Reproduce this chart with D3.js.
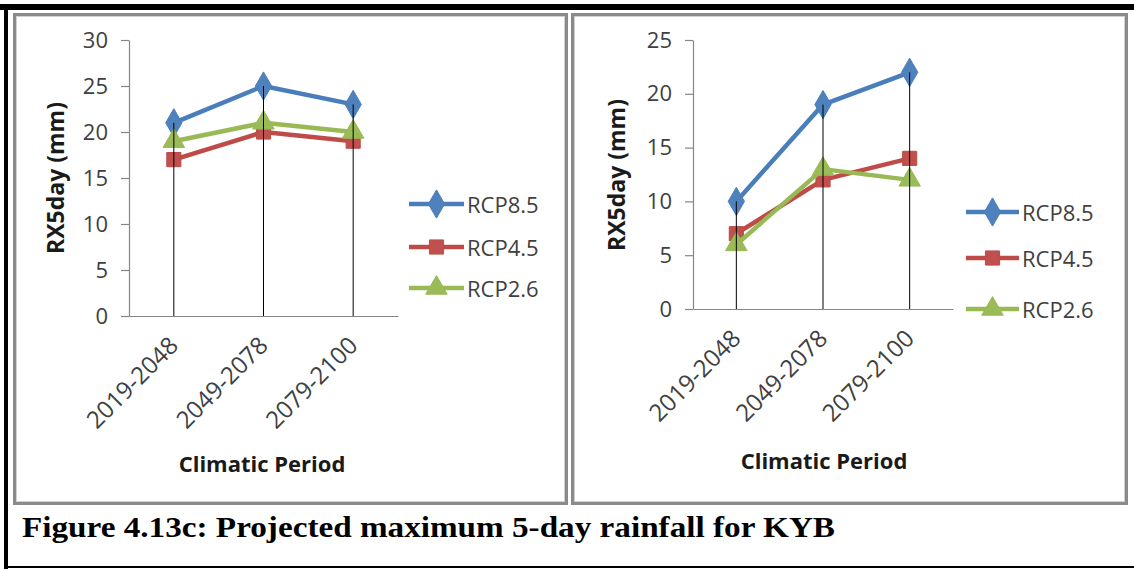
<!DOCTYPE html>
<html>
<head>
<meta charset="utf-8">
<script src="https://cdn.jsdelivr.net/npm/d3@7"></script>
<style>
  html, body { margin: 0; padding: 0; background: #fff; }
  svg { display: block; }
  text { font-family: "Open Sans", "Noto Sans", sans-serif; }
</style>
</head>
<body>
<svg id="fig" width="1134" height="569"></svg>
<script>
// Climatic periods on the category axis
const periods = ["2019-2048", "2049-2078", "2079-2100"];
const scenarios = ["RCP8.5", "RCP4.5", "RCP2.6"];

// Left panel: RX5day (mm)
const leftRcp85 = [21, 25, 23];
const leftRcp45 = [17, 20, 19];
const leftRcp26 = [19, 21, 20];
const leftTicks = [0, 5, 10, 15, 20, 25, 30];

// Right panel: RX5day (mm)
const rightRcp85 = [10, 19, 22];
const rightRcp45 = [7, 12, 14];
const rightRcp26 = [6, 13, 12];
const rightTicks = [0, 5, 10, 15, 20, 25];

const captionText = "Figure 4.13c: Projected maximum 5-day rainfall for KYB";

const colors = {
  "RCP8.5": { line: "#4a7ebb", fill: "#4f81bd" },
  "RCP4.5": { line: "#be4b48", fill: "#c0504d" },
  "RCP2.6": { line: "#98b954", fill: "#9bbb59" }
};
const shapes = {
  "RCP8.5": d3.symbolDiamond,
  "RCP4.5": d3.symbolSquare,
  "RCP2.6": d3.symbolTriangle
};
const symbolSize = { "RCP8.5": 230, "RCP4.5": 200, "RCP2.6": 200 };

const svg = d3.select("#fig");

// Page frame
svg.append("rect").attr("x", 0).attr("y", 4).attr("width", 1134).attr("height", 6).attr("fill", "#000");
svg.append("rect").attr("x", 4).attr("y", 4).attr("width", 4).attr("height", 565).attr("fill", "#000");
svg.append("rect").attr("x", 4).attr("y", 566).attr("width", 1130).attr("height", 2).attr("fill", "#000");

function drawPanel(p) {
  const g = svg.append("g");
  // chart area frame
  g.append("rect")
    .attr("x", p.box[0] + 1.5).attr("y", p.box[1] + 1.5)
    .attr("width", p.box[2] - 3).attr("height", p.box[3] - 3)
    .attr("fill", "#fff").attr("stroke", "#8a8a8a").attr("stroke-width", 3);
  g.append("rect")
    .attr("x", p.box[0] + 3.5).attr("y", p.box[1] + 3.5)
    .attr("width", p.box[2] - 7).attr("height", p.box[3] - 7)
    .attr("fill", "none").attr("stroke", "#d0d0d0").attr("stroke-width", 1);

  const x = d3.scaleBand().domain(periods).range([p.x0, p.x1]);
  const y = d3.scaleLinear().domain([0, d3.max(p.ticks)]).range([p.y0, p.y1]);

  // y axis
  const yAxis = g.append("g").attr("transform", `translate(${p.x0},0)`)
    .call(d3.axisLeft(y).tickValues(p.ticks).tickSize(8).tickPadding(13).tickSizeOuter(0));
  yAxis.select(".domain").attr("stroke", "#868686").attr("stroke-width", 1.2);
  yAxis.selectAll(".tick line").attr("stroke", "#868686").attr("stroke-width", 1.2);
  yAxis.selectAll(".tick text").attr("font-size", 22).attr("fill", "#404040")
    .style("font-family", "'Open Sans', sans-serif");

  // x axis
  const xAxis = g.append("g").attr("transform", `translate(0,${p.y0})`)
    .call(d3.axisBottom(x).tickSize(0).tickSizeOuter(0).tickFormat(() => ""));
  xAxis.select(".domain").attr("stroke", "#868686").attr("stroke-width", 1.2);

  // rotated category labels
  g.selectAll(".cat").data(periods).enter().append("text")
    .attr("class", "cat")
    .attr("transform", d => `translate(${x(d) + x.bandwidth() / 2 + 6},${p.y0 + 31}) rotate(-45)`)
    .attr("text-anchor", "end")
    .attr("font-size", 24).attr("fill", "#404040")
    .text(d => d);

  // axis titles
  g.append("text")
    .attr("transform", `translate(${p.yTitle[0]},${p.yTitle[1]}) rotate(-90)`)
    .attr("text-anchor", "middle").attr("dominant-baseline", "central")
    .attr("font-size", 23).attr("font-weight", "bold").attr("fill", "#1a1a1a")
    .text("RX5day (mm)");
  g.append("text")
    .attr("x", p.xTitle[0]).attr("y", p.xTitle[1])
    .attr("text-anchor", "middle").attr("dominant-baseline", "central")
    .attr("font-size", 22).attr("font-weight", "bold").attr("fill", "#1a1a1a")
    .text("Climatic Period");

  const line = d3.line().x((d, i) => x(periods[i]) + x.bandwidth() / 2).y(d => y(d));

  // series lines and markers
  scenarios.forEach((s, k) => {
    const vals = p.series[k];
    g.append("path").datum(vals)
      .attr("d", line).attr("fill", "none")
      .attr("stroke", colors[s].line).attr("stroke-width", 4.5)
      .attr("stroke-linejoin", "round");
    g.selectAll(null).data(vals).enter().append("path")
      .attr("transform", (d, i) => `translate(${x(periods[i]) + x.bandwidth() / 2},${y(d)})`)
      .attr("d", d3.symbol().type(shapes[s]).size(symbolSize[s]))
      .attr("fill", colors[s].fill).attr("stroke", colors[s].line).attr("stroke-width", 1);
  });

  // drop lines from the highest value of each period to the axis
  periods.forEach((per, i) => {
    const top = d3.max(p.series, v => v[i]);
    g.append("line")
      .attr("x1", x(per) + x.bandwidth() / 2).attr("x2", x(per) + x.bandwidth() / 2)
      .attr("y1", y(top)).attr("y2", p.y0)
      .attr("stroke", "#000").attr("stroke-width", 1);
  });

  // legend
  scenarios.forEach((s, k) => {
    const ly = p.legend.y[k];
    g.append("line")
      .attr("x1", p.legend.x0).attr("x2", p.legend.x1)
      .attr("y1", ly).attr("y2", ly)
      .attr("stroke", colors[s].line).attr("stroke-width", 4.5);
    g.append("path")
      .attr("transform", `translate(${(p.legend.x0 + p.legend.x1) / 2},${ly})`)
      .attr("d", d3.symbol().type(shapes[s]).size(symbolSize[s]))
      .attr("fill", colors[s].fill).attr("stroke", colors[s].line).attr("stroke-width", 1);
    g.append("text")
      .attr("x", p.legend.tx).attr("y", ly)
      .attr("dominant-baseline", "central")
      .attr("font-size", 22).attr("fill", "#404040")
      .text(s);
  });
}

drawPanel({
  box: [13, 13, 555, 492],
  x0: 129, x1: 398, y0: 316, y1: 40,
  ticks: leftTicks,
  series: [leftRcp85, leftRcp45, leftRcp26],
  yTitle: [55, 178],
  xTitle: [262, 463],
  legend: { x0: 409, x1: 464, tx: 467, y: [204, 247, 288] }
});

drawPanel({
  box: [571, 13, 557, 492],
  x0: 693, x1: 953, y0: 309, y1: 40,
  ticks: rightTicks,
  series: [rightRcp85, rightRcp45, rightRcp26],
  yTitle: [616, 175],
  xTitle: [824, 460],
  legend: { x0: 966, x1: 1019, tx: 1022, y: [212, 258, 309] }
});

svg.append("text")
  .attr("x", 22).attr("y", 537)
  .style("font-family", "'Liberation Serif', 'Times New Roman', serif")
  .attr("font-size", 30).attr("font-weight", "bold").attr("fill", "#000")
  .attr("textLength", 813).attr("lengthAdjust", "spacingAndGlyphs")
  .text(captionText);
</script>
</body>
</html>
